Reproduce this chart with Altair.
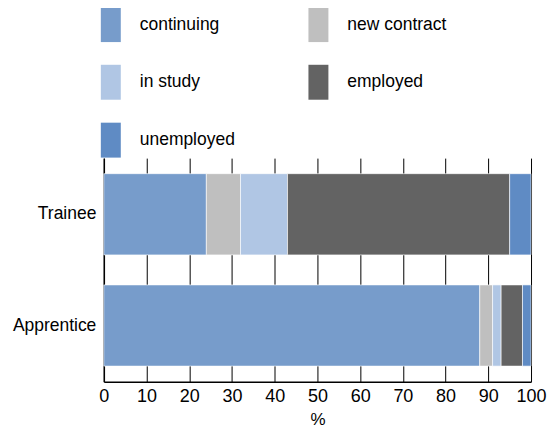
import altair as alt
import pandas as pd

groups = ["Trainee", "Apprentice"]
statuses = ["continuing", "new contract", "in study", "employed", "unemployed"]
colors = ["#779CCB", "#BFBFBF", "#B0C6E4", "#636363", "#5F8BC4"]
trainee = [24, 8, 11, 52, 5]
apprentice = [88, 3, 2, 5, 2]

rows = []
for g, vals in zip(groups, [trainee, apprentice]):
    for i, (s, v) in enumerate(zip(statuses, vals)):
        rows.append({"group": g, "status": s, "value": v, "order": i})
df = pd.DataFrame(rows)

FONT = "Liberation Sans, Arial, sans-serif"

chart = alt.Chart(df).mark_bar(stroke="#ffffff", strokeWidth=0.6).encode(
    x=alt.X("value:Q", stack="zero",
            scale=alt.Scale(domain=[0, 100], nice=False),
            axis=alt.Axis(values=list(range(0, 101, 10)), title="%", grid=True,
                          gridColor="#000000", gridOpacity=1, gridWidth=1,
                          domainColor="#000000", domainWidth=1.5, ticks=False,
                          labelFlush=False, labelOverlap=False,
                          labelFont=FONT, labelFontSize=18, labelColor="#000000",
                          labelPadding=6, titleFont=FONT, titleFontSize=17,
                          titleFontWeight="normal", titleColor="#000000", titlePadding=6)),
    y=alt.Y("group:N", sort=groups, scale=alt.Scale(paddingInner=0.27, paddingOuter=0.14),
            axis=alt.Axis(title=None, ticks=False, domainColor="#000000", domainWidth=1.5,
                          labelFont=FONT, labelFontSize=17.5, labelColor="#000000",
                          labelPadding=8)),
    color=alt.Color("status:N", sort=statuses,
                    scale=alt.Scale(domain=statuses, range=colors),
                    legend=alt.Legend(title=None, orient="none", legendX=-3, legendY=-144,
                                      direction="horizontal",
                                      columns=2, columnPadding=73, rowPadding=22,
                                      symbolType="M-1,-1.75H1V1.75H-1Z", symbolSize=400,
                                      symbolStrokeWidth=0, labelOffset=19,
                                      labelFont=FONT, labelFontSize=17.5, labelColor="#000000",
                                      labelLimit=200)),
    order=alt.Order("order:Q"),
).properties(
    width=428, height=224,
    padding={"left": 4, "top": 6, "right": 0, "bottom": 0},
).configure_view(stroke=None)

chart.save("out.html", embed_options={"renderer": "svg", "actions": False})
